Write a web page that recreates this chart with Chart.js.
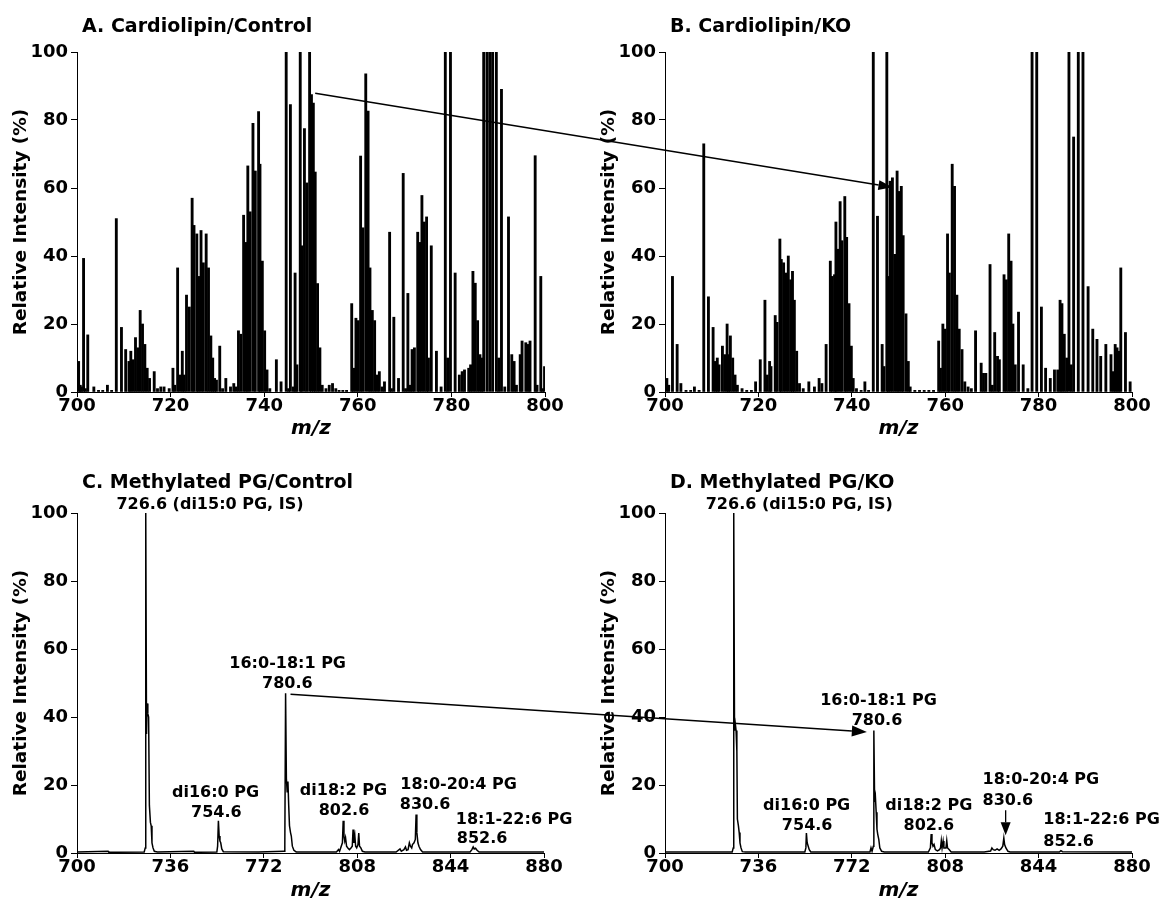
<!DOCTYPE html>
<html><head><meta charset="utf-8">
<script src="https://cdn.jsdelivr.net/npm/chart.js@4.4.1/dist/chart.umd.min.js"></script>
<style>
html,body{margin:0;padding:0;background:#fff;overflow:hidden;width:1163px;height:900px;}
canvas{position:absolute;}
</style></head><body>
<canvas id="cA" width="580" height="450" style="left:0px;top:0px"></canvas>
<canvas id="cB" width="575" height="450" style="left:588px;top:0px"></canvas>
<canvas id="cC" width="580" height="460" style="left:0px;top:450px"></canvas>
<canvas id="cD" width="575" height="460" style="left:588px;top:450px"></canvas>
<canvas id="ov" width="1163" height="900" style="left:0px;top:0px;pointer-events:none"></canvas>
<script>
// ---------------- DATA ----------------
const xTicksAB = [700, 720, 740, 760, 780, 800];
const xTicksCD = [700, 736, 772, 808, 844, 880];
const yTicks = [0, 20, 40, 60, 80, 100];

// Panel A: Cardiolipin / Control (peak m/z, relative intensity %)
const mzA = [700.35,700.7,700.95,701.4,701.8,702.3,703.6,704.6,705.5,706.5,707.4,708.4,709.5,710.4,711.1,711.5,712,712.5,713,713.5,714,714.5,715,715.5,716.5,717.2,717.9,718.6,719.7,720.5,720.9,721.5,722,722.5,722.9,723.4,724,724.6,725,725.6,726,726.5,727,727.6,728.1,728.6,729,729.4,729.8,730.5,731.1,731.8,732.8,733.5,734,734.5,735,735.6,736.1,736.5,737,737.6,738.1,738.8,739.1,739.6,740.1,740.6,741.2,742.6,743.6,744.7,745.2,745.6,746.2,746.6,747,747.7,748,748.6,749.1,749.7,750.1,750.5,750.9,751.4,751.9,752.4,753.2,753.9,754.6,755.3,756,756.8,757.6,758.7,759.1,759.6,760.1,760.6,761.1,761.7,762.2,762.6,763.1,763.6,764.1,764.6,765.2,765.7,766.8,767.2,767.7,768.7,769.7,770.2,770.7,771.2,771.6,772.1,772.8,773.2,773.7,774.2,774.7,775.1,775.7,776.8,777.8,778.7,779.2,779.8,780.8,781.7,782.3,782.8,783.7,784.1,784.6,785.1,785.6,786.1,786.5,786.9,787.6,788.2,788.8,789.6,790.1,790.7,791.4,792.2,792.9,793.4,793.9,794.7,795.1,795.9,796.4,796.8,797.9,798.3,799.1,799.5,799.9];
const intA = [9,2,1.5,39.3,1,16.8,1.5,0.5,0.5,2,0.5,51,19,12.5,9,12,9.5,16,13,24,20,14,7,4,6,1,1.5,1.5,1,7,2,36.5,5,12,5,28.5,25,57,49,46.5,34,47.5,38,46.5,36.5,16.5,10,4,3.5,13.5,1,4,1.5,2.5,1.5,18,17,52,44,66.5,53,79,65,82.5,67,38.5,18,6.5,1,9.5,3,100,1,84.5,1.5,35,8,100,43,77.5,61.5,100,87.5,85,64.7,31.9,13,2,1,2,2.5,1,0.5,0.5,0.5,26,7,21.7,21,69.4,48.3,93.6,82.6,36.5,24,21,5,6,1.5,3,47,1,22,4,64.3,1,29,2,12.5,13,47,44,57.8,50,51.5,10,43,12,1.5,100,10,100,35,5,6,6.5,7,8,35.5,32,21,11,10,100,100,100,100,100,10,89,1.5,51.5,11,9,2,11,15,14.5,14,15,69.5,2,34,1,7.5];

// Panel B: Cardiolipin / KO
const mzB = [700.4,700.8,701.6,702.6,703.4,704.5,705.5,706.3,707.3,708.3,709.3,710.3,710.8,711.2,711.6,712.3,712.8,713.3,713.6,714,714.5,715,715.5,716.5,717.5,718.5,719.4,720.4,721.4,721.9,722.4,722.7,723.6,724,724.6,724.9,725.4,725.9,726.4,726.9,727.3,727.7,728.2,728.8,729.6,730.8,732,733,733.6,734.5,735.4,735.8,736.3,736.6,737,737.5,737.9,738.5,738.9,739.4,739.9,740.3,741,742,742.8,743.6,744.6,745.5,746.5,746.9,747.5,747.8,748.2,748.7,749.2,749.7,750.1,750.6,751,751.6,752.1,752.5,753.5,754.5,755.5,756.5,757.5,758.6,759,759.5,760,760.5,760.9,761.5,762,762.5,763,763.6,764.2,764.9,765.6,766.5,767.7,768.2,768.7,769.6,770.1,770.6,771.2,771.6,772.6,773.1,773.6,774.1,774.5,775,775.7,776.7,777.7,778.6,779.6,780.6,781.5,782.5,783.4,784.1,784.6,785,785.5,786,786.5,787,787.5,788.5,789.5,790.6,791.6,792.5,793.3,794.4,795.5,796,796.4,796.8,797.2,797.6,798.6,799.6];
const intB = [4,2,34,14,2.5,0.5,0.5,1.5,0.5,73,28,19,9,10,8,13.5,11,20,11,16.5,10,5,2,1,0.5,0.5,3,9.5,27,5,9,7.5,22.5,20.5,45,39,38,35,40,33,35.5,27,12,2.5,1,3,1.5,4,2.5,14,38.5,34,34.5,50,42,56,44.5,57.5,45.5,26,13.5,4,1,0.5,3,0.5,100,51.7,14,7.5,100,34,62,63,40.5,65,59,60.5,46,23,9,1.5,0.5,0.5,0.5,0.5,0.5,15,7,20,18.5,46.5,35,67,60.5,28.5,18.5,12.5,3,1.5,1,18,8.5,5.5,5.5,37.5,2,17.5,10.5,9.5,34.5,33,46.5,38.5,20,8,23.5,8,1,100,100,25,7,4,6.5,6.5,27,26,17,10,100,8,75,100,100,31,18.5,15.5,10.5,14,11,6,14,13,12,36.5,17.5,3];

// Panel C: Methylated PG / Control (profile)
const mzC = [700,712,712.3,725.9,726.3,726.5,726.8,727,727.3,727.6,727.9,728.3,728.6,728.9,729.3,729.8,731,745,745.3,753.9,754.2,754.5,754.8,755.1,755.4,755.8,756.4,770,779.8,780.1,780.4,780.7,781,781.3,781.6,781.9,782.3,782.6,783,783.6,784.5,800,800.8,801.2,802.3,802.6,802.9,803.2,803.5,803.9,804.4,805,805.6,806.1,806.4,806.7,807.1,807.4,807.8,808.3,808.6,808.9,809.4,810,811,823,824.5,825,826,826.6,827,827.6,828.1,828.5,829,829.3,829.9,830.4,830.7,831,831.4,831.8,832.4,833.2,851.5,852.2,852.7,853.1,853.6,854.2,855,865,880];
const intC = [0.3,0.5,0.2,0.3,1.5,100,35,44,41,40,14,9,8,3,1.5,0.5,0.3,0.5,0.2,0.3,2,9.5,5,3.5,3,1.2,0.4,0.3,0.5,2,47,22,18,21,14,8,6,5,2,0.8,0.3,0.3,1,0.5,3,9.5,5,3.5,4.5,2,1.5,1,1.5,2,6.9,3,5,2,1.5,2.5,5.9,2,1.5,0.5,0.3,0.3,1.2,0.5,1,1.8,0.8,1,3,2,1.5,2.5,3,4,11.3,6,3,2,1,0.3,0.3,1,1.8,1.2,1.4,0.8,0.3,0.3,0.3];

// Panel D: Methylated PG / KO (profile)
const mzD = [700,725.9,726.3,726.5,726.8,727.1,727.4,727.7,727.9,728.3,728.6,728.9,729.3,729.8,731,753.9,754.3,754.5,754.8,755.2,755.6,756.2,779,779.4,779.8,780.3,780.5,780.8,781.1,781.4,781.7,782,782.4,782.8,783.5,784.5,801.5,802.3,802.6,802.9,803.3,803.7,804.2,805,805.8,806.2,806.5,806.8,807.2,807.5,808.3,808.6,808.9,809.5,810.3,823,825.5,826,826.5,827.2,828,828.8,829.5,830.2,830.6,830.9,831.4,832.2,833,852,852.6,853.2,880];
const intD = [0.3,0.3,1.5,100,36,38,36,30,10,8,6,3,1.5,0.4,0.3,0.3,1.5,5.9,3,2,1,0.3,0.3,1.5,0.5,2,36,15,16.5,12,7,5.5,4,1.5,0.5,0.3,0.3,1.5,5.6,3,2,2.5,1,0.6,1,1.5,3.6,1.5,3.5,1.5,1.5,3.6,1.5,1,0.3,0.3,0.6,1.5,1,0.8,1.2,0.8,1.2,2,4.4,2.5,1.5,0.5,0.3,0.3,0.7,0.4,0.3];

// ---------------- ANNOTATIONS (text anchored in data units) ----------------
const labelsC = [
  {text:'726.6 (di15:0 PG, IS)', mz:715.2, y:101.1, align:'left'},
  {text:'16:0-18:1 PG', mz:781.2, y:54.3, align:'center'},
  {text:'780.6', mz:781.1, y:48.4, align:'center'},
  {text:'di16:0 PG', mz:753.4, y:16.4, align:'center'},
  {text:'754.6', mz:753.7, y:10.5, align:'center'},
  {text:'di18:2 PG', mz:802.7, y:17, align:'center'},
  {text:'802.6', mz:802.9, y:11.1, align:'center'},
  {text:'18:0-20:4 PG', mz:824.6, y:18.9, align:'left'},
  {text:'830.6', mz:824.4, y:13, align:'left'},
  {text:'18:1-22:6 PG', mz:846, y:8.6, align:'left'},
  {text:'852.6', mz:846.4, y:2.9, align:'left'}
];
const labelsD = [
  {text:'726.6 (di15:0 PG, IS)', mz:715.7, y:101.3, align:'left'},
  {text:'16:0-18:1 PG', mz:782.3, y:43.4, align:'center'},
  {text:'780.6', mz:781.7, y:37.6, align:'center'},
  {text:'di16:0 PG', mz:754.6, y:12.6, align:'center'},
  {text:'754.6', mz:754.8, y:6.7, align:'center'},
  {text:'di18:2 PG', mz:801.7, y:12.6, align:'center'},
  {text:'802.6', mz:801.7, y:6.7, align:'center'},
  {text:'18:0-20:4 PG', mz:822.4, y:20.4, align:'left'},
  {text:'830.6', mz:822.4, y:14, align:'left'},
  {text:'18:1-22:6 PG', mz:845.8, y:8.4, align:'left'},
  {text:'852.6', mz:845.8, y:2.1, align:'left'}
];

const FONT = '"DejaVu Sans", sans-serif';

function arrowHead(ctx, x1, y1, x2, y2, len, hw) {
  const a = Math.atan2(y2 - y1, x2 - x1);
  const bx = x2 - len * Math.cos(a), by = y2 - len * Math.sin(a);
  ctx.beginPath();
  ctx.moveTo(x1, y1); ctx.lineTo(bx, by); ctx.stroke();
  ctx.beginPath();
  ctx.moveTo(x2, y2);
  ctx.lineTo(bx + hw * Math.sin(a), by - hw * Math.cos(a));
  ctx.lineTo(bx - hw * Math.sin(a), by + hw * Math.cos(a));
  ctx.closePath(); ctx.fill();
}

const panelText = {
  id: 'panelText',
  afterDraw(chart, args, opts) {
    const ctx = chart.ctx, ca = chart.chartArea, xs = chart.scales.x, ys = chart.scales.y;
    ctx.save();
    ctx.fillStyle = '#000'; ctx.strokeStyle = '#000';
    ctx.textBaseline = 'alphabetic';
    ctx.font = 'bold 19px ' + FONT;
    ctx.textAlign = 'left';
    ctx.fillText(opts.title, ca.left + 5, ca.top - opts.titleGap);
    ctx.font = 'bold 16px ' + FONT;
    (opts.labels || []).forEach(l => {
      ctx.textAlign = l.align;
      ctx.fillText(l.text, xs.getPixelForValue(l.mz), ys.getPixelForValue(l.y));
    });
    if (opts.pointer) {
      const p = opts.pointer;
      const x = xs.getPixelForValue(p.mz);
      ctx.lineWidth = 1.3;
      arrowHead(ctx, x, ys.getPixelForValue(p.from), x, ys.getPixelForValue(p.to), 13, 5);
    }
    ctx.restore();
  }
};

function axisFont(size, extra) { return Object.assign({family: FONT, size: size, weight: 'bold'}, extra || {}); }

function makeChart(id, type, mz, ints, cfg) {
  const data = mz.map((m, i) => ({x: m, y: ints[i]}));
  const ds = type === 'bar'
    ? {data, backgroundColor: '#000', borderWidth: 0, barThickness: 2.2, grouped: false}
    : {data, borderColor: '#000', borderWidth: 1.5, pointRadius: 0, tension: 0, fill: false};
  return new Chart(document.getElementById(id), {
    type: type,
    data: {datasets: [ds]},
    plugins: [panelText],
    options: {
      responsive: false, animation: false, events: [],
      layout: {padding: {top: cfg.padTop, right: cfg.padRight, left: 0, bottom: 0}},
      plugins: {
        legend: {display: false}, tooltip: {enabled: false}, title: {display: false},
        panelText: {title: cfg.title, titleGap: cfg.titleGap, labels: cfg.labels, pointer: cfg.pointer}
      },
      scales: {
        x: {
          type: 'linear', min: cfg.xTicks[0], max: cfg.xTicks[cfg.xTicks.length - 1], offset: false,
          afterFit: s => { s.height = cfg.xAxisH; },
          afterBuildTicks: s => { s.ticks = cfg.xTicks.map(v => ({value: v})); },
          ticks: {font: axisFont(18, {lineHeight: 1}), color: '#000', padding: 0, maxRotation: 0, autoSkip: false},
          grid: {display: true, offset: false, drawOnChartArea: false, drawTicks: true, tickLength: 5, color: '#000', lineWidth: 1},
          border: {display: true, color: '#000', width: 1},
          title: {display: true, text: 'm/z', color: '#000', font: axisFont(20, {style: 'italic'}), padding: {top: 0, bottom: cfg.mzPad}}
        },
        y: {
          type: 'linear', min: 0, max: 100,
          afterFit: s => { s.width = 77; },
          afterBuildTicks: s => { s.ticks = yTicks.map(v => ({value: v})); },
          ticks: {font: axisFont(18), color: '#000', padding: 3},
          grid: {display: true, drawOnChartArea: false, drawTicks: true, tickLength: 6, color: '#000', lineWidth: 1},
          border: {display: true, color: '#000', width: 1},
          title: {display: true, text: 'Relative Intensity (%)', color: '#000', font: axisFont(18.5), padding: {top: 10.5, bottom: 0}}
        }
      }
    }
  });
}

const chA = makeChart('cA', 'bar', mzA, intA, {title: 'A. Cardiolipin/Control', titleGap: 20, padTop: 52, padRight: 35, xAxisH: 58, mzPad: 9, xTicks: xTicksAB});
const chB = makeChart('cB', 'bar', mzB, intB, {title: 'B. Cardiolipin/KO', titleGap: 20, padTop: 52, padRight: 31, xAxisH: 58, mzPad: 9, xTicks: xTicksAB});
const chC = makeChart('cC', 'line', mzC, intC, {title: 'C. Methylated PG/Control', titleGap: 25, padTop: 63, padRight: 36, xAxisH: 57, mzPad: 7, xTicks: xTicksCD, labels: labelsC});
const chD = makeChart('cD', 'line', mzD, intD, {title: 'D. Methylated PG/KO', titleGap: 25, padTop: 63, padRight: 31, xAxisH: 57, mzPad: 7, xTicks: xTicksCD, labels: labelsD, pointer: {mz: 831.3, from: 12.6, to: 5.2}});

// cross-panel arrows, placed through each chart's own scales
function pagePt(chart, mz, I) {
  const c = chart.canvas;
  return [c.offsetLeft + chart.scales.x.getPixelForValue(mz), c.offsetTop + chart.scales.y.getPixelForValue(I)];
}
const ov = document.getElementById('ov').getContext('2d');
ov.fillStyle = '#000'; ov.strokeStyle = '#000'; ov.lineWidth = 1.5;
let p1 = pagePt(chA, 750.9, 87.9), p2 = pagePt(chB, 748.7, 60.2);
arrowHead(ov, p1[0], p1[1], p2[0], p2[1], 14, 5);
p1 = pagePt(chC, 782.3, 46.7); p2 = pagePt(chD, 777.8, 35.6);
arrowHead(ov, p1[0], p1[1], p2[0], p2[1], 15, 5.5);
</script>
</body></html>
